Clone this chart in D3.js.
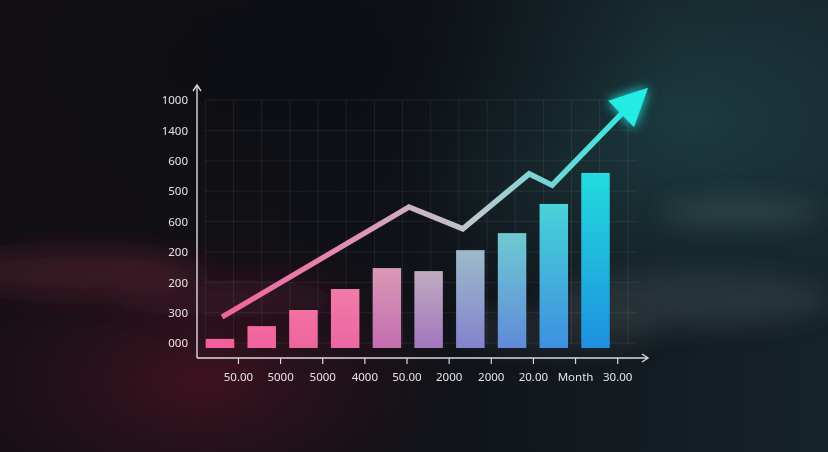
<!DOCTYPE html>
<html>
<head>
<meta charset="utf-8">
<script src="https://cdn.jsdelivr.net/npm/d3@7/dist/d3.min.js"></script>
<style>
html,body{margin:0;padding:0;background:#0e1015;}
svg{display:block;}
</style>
</head>
<body>
<svg id="chart" width="828" height="452"></svg>
<script>
// ---------- data ----------
const xTickLabels = ["50.00","5000","5000","4000","50.00","2000","2000","20.00","Month","30.00"];
const yTickLabels = ["000","300","200","200","600","500","600","1400","1000"];
const barValues   = [0.14, 0.56, 1.09, 1.78, 2.47, 2.37, 3.06, 3.62, 4.58, 5.60];
const lineX       = [0.05, 4.53, 5.82, 7.41, 7.96, 9.64];
const lineY       = [0.86, 4.48, 3.76, 5.57, 5.20, 7.57];
const arrowTip    = {x: 10.26, y: 8.40};

// ---------- layout ----------
const W = 828, H = 452;
const svg = d3.select("#chart");
const defs = svg.append("defs");

const x = d3.scaleLinear().domain([0, 9]).range([220, 595.5]);
const y = d3.scaleLinear().domain([-0.16, 8]).range([348, 100]);
const axisX0 = 197, axisY0 = 358, axisXEnd = 648, axisYTop = 85;
const barW = 28.5;

// ---------- background ----------
const bgLin = defs.append("linearGradient").attr("id","bgLin").attr("x1",0).attr("x2",1).attr("y1",0).attr("y2",0);
bgLin.append("stop").attr("offset",0).attr("stop-color","#130f14");
bgLin.append("stop").attr("offset",0.45).attr("stop-color","#0f1116");
bgLin.append("stop").attr("offset",1).attr("stop-color","#16232a");
svg.append("rect").attr("width",W).attr("height",H).attr("fill","url(#bgLin)");

const rg1 = defs.append("radialGradient").attr("id","glowRed").attr("cx",0.5).attr("cy",0.5).attr("r",0.5);
rg1.append("stop").attr("offset",0).attr("stop-color","#4e1324").attr("stop-opacity",0.75);
rg1.append("stop").attr("offset",0.6).attr("stop-color","#3a1220").attr("stop-opacity",0.35);
rg1.append("stop").attr("offset",1).attr("stop-color","#3a1220").attr("stop-opacity",0);
svg.append("ellipse").attr("cx",200).attr("cy",380).attr("rx",260).attr("ry",150).attr("fill","url(#glowRed)");

const rg2 = defs.append("radialGradient").attr("id","glowTeal").attr("cx",0.5).attr("cy",0.5).attr("r",0.5);
rg2.append("stop").attr("offset",0).attr("stop-color","#1e4448").attr("stop-opacity",0.75);
rg2.append("stop").attr("offset",1).attr("stop-color","#1e4448").attr("stop-opacity",0);
svg.append("ellipse").attr("cx",690).attr("cy",120).attr("rx",300).attr("ry",220).attr("fill","url(#glowTeal)");

const rg3 = defs.append("radialGradient").attr("id","darkTop").attr("cx",0.5).attr("cy",0.5).attr("r",0.5);
rg3.append("stop").attr("offset",0).attr("stop-color","#0b0d12").attr("stop-opacity",0.7);
rg3.append("stop").attr("offset",1).attr("stop-color","#0b0d12").attr("stop-opacity",0);
svg.append("ellipse").attr("cx",300).attr("cy",60).attr("rx",380).attr("ry",150).attr("fill","url(#darkTop)");

// clouds
const blur = defs.append("filter").attr("id","cloudBlur").attr("x","-50%").attr("y","-50%").attr("width","200%").attr("height","200%");
blur.append("feGaussianBlur").attr("stdDeviation",12);
const clouds = svg.append("g").attr("filter","url(#cloudBlur)");
clouds.append("ellipse").attr("cx",80).attr("cy",272).attr("rx",120).attr("ry",24).attr("fill","#5e2535").attr("opacity",0.45);
clouds.append("ellipse").attr("cx",230).attr("cy",298).attr("rx",110).attr("ry",18).attr("fill","#5e2434").attr("opacity",0.3);
clouds.append("ellipse").attr("cx",740).attr("cy",212).attr("rx",80).attr("ry",12).attr("fill","#5a6a70").attr("opacity",0.35);
clouds.append("ellipse").attr("cx",690).attr("cy",300).attr("rx",140).attr("ry",28).attr("fill","#4c5a60").attr("opacity",0.3);
clouds.append("ellipse").attr("cx",560).attr("cy",330).attr("rx",100).attr("ry",20).attr("fill","#4a565c").attr("opacity",0.25);

// ---------- grid ----------
const grid = svg.append("g").attr("stroke","#ffffff").attr("stroke-opacity",0.07).attr("stroke-width",1);
const gridXs = d3.range(-0.35, 10.0, 0.675);
const gridTop = y(8), gridBottom = y(-0.05);
grid.selectAll("line.v").data(gridXs).join("line")
  .attr("x1",d=>x(d)).attr("x2",d=>x(d)).attr("y1",gridTop).attr("y2",gridBottom);
grid.selectAll("line.h").data(d3.range(0, 9)).join("line")
  .attr("x1",x(-0.35)).attr("x2",x(10.0)).attr("y1",d=>y(d)).attr("y2",d=>y(d));

// ---------- bars ----------
const topColor = d3.scaleLinear().domain([0,0.33,0.45,0.6,0.78,1])
  .range(["#f2609a","#f27aa8","#d89ab5","#b8b2c4","#6ccad2","#22dcdc"]);
const botColor = d3.scaleLinear().domain([0,0.33,0.5,0.7,0.85,1])
  .range(["#f25f9c","#ec66a2","#b070b8","#7a86d2","#4a8ee0","#1e90e0"]);
barValues.forEach((v,i)=>{
  const t = i/(barValues.length-1);
  const g = defs.append("linearGradient").attr("id","bar"+i).attr("x1",0).attr("x2",0).attr("y1",0).attr("y2",1);
  g.append("stop").attr("offset",0).attr("stop-color",topColor(t));
  g.append("stop").attr("offset",1).attr("stop-color",botColor(t));
});
svg.append("g").selectAll("rect").data(barValues).join("rect")
  .attr("x",(d,i)=>x(i)-barW/2)
  .attr("y",d=>y(d))
  .attr("width",barW)
  .attr("height",d=>y(-0.16)-y(d))
  .attr("fill",(d,i)=>`url(#bar${i})`);

// ---------- trend line + arrow ----------
const lineGrad = defs.append("linearGradient").attr("id","lineGrad").attr("gradientUnits","userSpaceOnUse")
  .attr("x1",x(lineX[0])).attr("x2",x(arrowTip.x)).attr("y1",0).attr("y2",0);
[[0,"#f0639a"],[0.25,"#e684ac"],[0.45,"#cdb2c4"],[0.6,"#bcc8d0"],[0.75,"#78d4d6"],[1,"#22ece4"]]
  .forEach(s=>lineGrad.append("stop").attr("offset",s[0]).attr("stop-color",s[1]));

const glow = defs.append("filter").attr("id","glow").attr("x","-50%").attr("y","-50%").attr("width","200%").attr("height","200%");
glow.append("feGaussianBlur").attr("stdDeviation",6).attr("result","b");
const fm = glow.append("feMerge");
fm.append("feMergeNode").attr("in","b");
fm.append("feMergeNode").attr("in","SourceGraphic");

const pts = lineX.map((d,i)=>[x(d), y(lineY[i])]);
svg.append("path")
  .attr("d", d3.line()(pts))
  .attr("fill","none")
  .attr("stroke","url(#lineGrad)")
  .attr("stroke-width",5.5)
  .attr("stroke-linejoin","miter")
  .attr("stroke-linecap","butt");

// arrow head
const tip = [x(arrowTip.x), y(arrowTip.y)];
const base = pts[pts.length-1];
const dx = tip[0]-base[0], dy = tip[1]-base[1];
const len = Math.hypot(dx,dy);
const nx = -dy/len, ny = dx/len;
const hw = 18.5;
const headBase = [base[0]-dx/len*1.5, base[1]-dy/len*1.5];
svg.append("path")
  .attr("d", `M${tip[0]},${tip[1]}L${headBase[0]+nx*hw},${headBase[1]+ny*hw}L${headBase[0]-nx*hw},${headBase[1]-ny*hw}Z`)
  .attr("fill","#24ece4")
  .attr("filter","url(#glow)");

// ---------- axes ----------
const axisColor = "#ddd8dc";
const ax = svg.append("g").attr("stroke",axisColor).attr("stroke-width",1.4).attr("fill","none");
ax.append("line").attr("x1",axisX0).attr("x2",axisX0).attr("y1",axisY0).attr("y2",axisYTop);
ax.append("path").attr("d",`M${axisX0-4},${axisYTop+6}L${axisX0},${axisYTop}L${axisX0+4},${axisYTop+6}`);
ax.append("line").attr("x1",axisX0).attr("x2",axisXEnd).attr("y1",axisY0).attr("y2",axisY0);
ax.append("path").attr("d",`M${axisXEnd-6},${axisY0-4}L${axisXEnd},${axisY0}L${axisXEnd-6},${axisY0+4}`);

// x ticks + labels via d3 axis (index domain so duplicate labels stay distinct)
const xTickScale = d3.scalePoint().domain(d3.range(xTickLabels.length)).range([x(0.43), x(9.52)]);
const xAxis = svg.append("g").attr("transform",`translate(0,${axisY0})`)
  .call(d3.axisBottom(xTickScale).tickFormat(i=>xTickLabels[i]).tickSize(6).tickPadding(9).tickSizeOuter(0));
xAxis.select(".domain").remove();
xAxis.selectAll(".tick line").attr("stroke",axisColor).attr("stroke-width",1.2);
xAxis.selectAll(".tick text").attr("fill","#e8e2e6").attr("font-size","11.5px")
  .attr("font-family","'Noto Sans', 'Open Sans', sans-serif");

// y labels via d3 axis
const yAxis = svg.append("g").attr("transform",`translate(${axisX0-9},0)`)
  .call(d3.axisLeft(y).tickValues(d3.range(0,9)).tickFormat(d=>yTickLabels[d]).tickSize(0).tickPadding(0));
yAxis.select(".domain").remove();
yAxis.selectAll(".tick text").attr("fill","#e8e2e6").attr("font-size","11.5px")
  .attr("font-family","'Noto Sans', 'Open Sans', sans-serif");
</script>
</body>
</html>
